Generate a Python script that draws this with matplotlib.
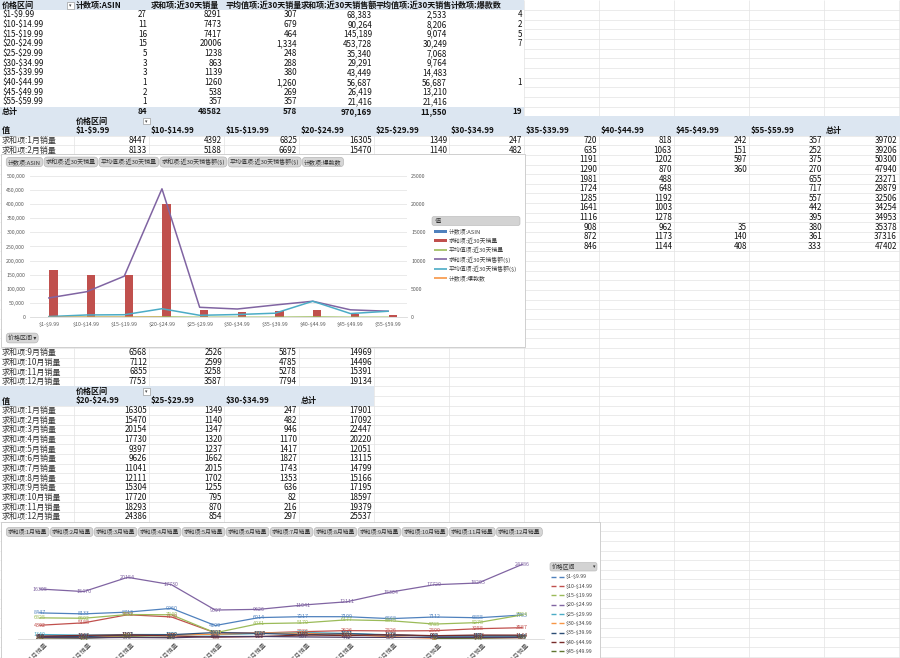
import matplotlib
matplotlib.use('Agg')
import matplotlib.pyplot as plt
import matplotlib.patches as patches
import matplotlib.transforms as mtransforms
import numpy as np

plt.rcParams['font.family'] = ['Noto Sans CJK SC', 'DejaVu Sans']

# ---------------- data ----------------
price_ranges = ['$1-$9.99', '$10-$14.99', '$15-$19.99', '$20-$24.99', '$25-$29.99',
                '$30-$34.99', '$35-$39.99', '$40-$44.99', '$45-$49.99', '$55-$59.99']
t1_headers = ['价格区间', '计数项:ASIN', '求和项:近30天销量', '平均值项:近30天销量',
              '求和项:近30天销售额', '平均值项:近30天销售', '计数项:爆款数']
asin_count = [27, 11, 16, 15, 5, 3, 3, 1, 2, 1]
sales_30d = [8291, 7473, 7417, 20006, 1238, 863, 1139, 1260, 538, 357]
avg_sales_30d = [307, 679, 464, 1334, 248, 288, 380, 1260, 269, 357]
revenue_30d = [68383, 90264, 145189, 453728, 35340, 29291, 43449, 56687, 26419, 21416]
avg_revenue_30d = [2533, 8206, 9074, 30249, 7068, 9764, 14483, 56687, 13210, 21416]
hot_count = [4, 2, 5, 7, None, None, None, 1, None, None]
t1_totals = ['84', '48582', '578', '970,169', '11,550', '19']

months = ['1月', '2月', '3月', '4月', '5月', '6月', '7月', '8月', '9月', '10月', '11月', '12月']
m_1_9 = [8447, 8133, 8713, 9960, 4299, 6914, 7217, 7199, 6568, 7112, 6855, 7753]
m_10_14 = [4392, 5188, 7852, 7130, 1897, 1830, 2286, 2626, 2526, 2599, 3258, 3587]
m_15_19 = [6825, 6692, 7923, 7840, 1900, 4931, 5170, 6177, 5875, 4785, 5278, 7794]
m_20_24 = [16305, 15470, 20154, 17730, 9397, 9626, 11041, 12111, 15304, 17720, 18293, 24386]
m_25_29 = [1349, 1140, 1347, 1320, 1237, 1662, 2015, 1702, 1255, 795, 870, 854]
m_30_34 = [247, 482, 946, 1170, 1417, 1827, 1743, 1353, 636, 82, 216, 297]
m_35_39 = [720, 635, 1191, 1290, 1981, 1724, 1285, 1641, 1116, 908, 872, 846]
m_40_44 = [818, 1063, 1202, 870, 488, 648, 1192, 1003, 1278, 962, 1173, 1144]
m_45_49 = [242, 151, 597, 360, None, None, None, None, None, 35, 140, 408]
m_55_59 = [357, 252, 375, 270, 655, 717, 557, 442, 395, 380, 361, 333]
month_total = [39702, 39206, 50300, 47940, 23271, 29879, 32506, 34254, 34953, 35378, 37316, 47402]
t3_total = [14969, 14496, 15391, 19134]          # 9月-12月, $1/$10/$15 table
t4_total = [17901, 17092, 22447, 20220, 12051, 13115, 14799, 15166, 17195, 18597, 19379, 25537]

monthly = [m_1_9, m_10_14, m_15_19, m_20_24, m_25_29, m_30_34, m_35_39, m_40_44, m_45_49, m_55_59]
range_colors = ['#4F81BD', '#C0504D', '#9BBB59', '#8064A2', '#4BACC6',
                '#F79646', '#2C4D75', '#772C2A', '#5F7530', '#4D3B62']


def esc(s):
    # keep "$" literal (no mathtext)
    return str(s).replace('$', r'\$')


# ---------------- sheet ----------------
W, H = 900, 658
fig = plt.figure(figsize=(W / 100, H / 100), dpi=100)
bg = fig.add_axes([0, 0, 1, 1])
bg.set_xlim(0, W)
bg.set_ylim(H, 0)
bg.axis('off')

ROW0, ROWH = 5.3, 9.65
FS = 5.8
GRID = '#E3E3E3'
HEAD = '#DCE6F1'


def row_y(k):
    return ROW0 + ROWH * k


def col_right(j):
    return 74 + 75 * j


def col_left(j):
    return 0 if j == 0 else col_right(j - 1)


def px_axes(x0, y0, x1, y1):
    return fig.add_axes([x0 / W, 1 - y1 / H, (x1 - x0) / W, (y1 - y0) / H])


def fill_row(k, x0, x1, color=HEAD, n=1):
    bg.add_patch(patches.Rectangle((x0, row_y(k) - ROWH / 2), x1 - x0, ROWH * n,
                                   fc=color, ec='none', zorder=2))


def cell(k, j, s, bold=False, left=False, color='#111111'):
    if s is None:
        return
    if left:
        x, ha = col_left(j) + 2, 'left'
    else:
        x, ha = col_right(j) - 2, 'right'
    bg.text(x, row_y(k), esc(s), ha=ha, va='center', fontsize=FS,
            fontweight='bold' if bold else 'normal', color=color, zorder=3)


def filter_icon(x, y):
    bg.add_patch(patches.Rectangle((x, y - 3.2), 6.5, 6.5, fc='white', ec='#8A8A8A', lw=0.4, zorder=3))
    bg.text(x + 3.25, y, '▾', ha='center', va='center', fontsize=3.5, color='#444444', zorder=4)


def fmt(v):
    return None if v is None else '{:,}'.format(v)


# gridlines
bg.hlines([row_y(k) + ROWH / 2 for k in range(70)], 0, W, color=GRID, lw=0.5, zorder=1)
bg.vlines([col_right(j) for j in range(12)], 0, H, color=GRID, lw=0.5, zorder=1)

# table 1
fill_row(0, 0, 524)
fill_row(1, 0, 524, color='white', n=10)
fill_row(11, 0, 524)
for j, h in enumerate(t1_headers):
    cell(0, j, h, bold=True, left=True)
filter_icon(67, row_y(0))
for i, pr in enumerate(price_ranges):
    k = i + 1
    cell(k, 0, pr, left=True)
    cell(k, 1, asin_count[i])
    cell(k, 2, sales_30d[i])
    cell(k, 3, fmt(avg_sales_30d[i]))
    cell(k, 4, fmt(revenue_30d[i]))
    cell(k, 5, fmt(avg_revenue_30d[i]))
    cell(k, 6, hot_count[i])
cell(11, 0, '总计', bold=True, left=True)
for j, v in enumerate(t1_totals):
    cell(11, j + 1, v, bold=True)

# table 2
fill_row(12, 0, W)
fill_row(13, 0, W)
cell(12, 1, '价格区间', bold=True, left=True)
filter_icon(143, row_y(12))
cell(13, 0, '值', bold=True, left=True)
for j, h in enumerate(price_ranges + ['总计']):
    cell(13, j + 1, h, bold=True, left=True)
for m in range(12):
    k = 14 + m
    row = [s[m] for s in monthly] + [month_total[m]]
    if m < 2:
        cell(k, 0, '求和项:' + months[m] + '销量', left=True, color='#333333')
        cols = range(11)
    else:
        cols = range(6, 11)
    for c in cols:
        cell(k, c + 1, row[c])

# table 3 (only last rows visible)
for i in range(4):
    k = 36 + i
    m = 8 + i
    cell(k, 0, '求和项:' + months[m] + '销量', left=True, color='#333333')
    cell(k, 1, m_1_9[m])
    cell(k, 2, m_10_14[m])
    cell(k, 3, m_15_19[m])
    cell(k, 4, t3_total[i])

# table 4
fill_row(40, 0, 374)
fill_row(41, 0, 374)
cell(40, 1, '价格区间', bold=True, left=True)
filter_icon(143, row_y(40))
for j, h in enumerate(['值', '$20-$24.99', '$25-$29.99', '$30-$34.99', '总计']):
    cell(41, j, h, bold=True, left=True)
for m in range(12):
    k = 42 + m
    cell(k, 0, '求和项:' + months[m] + '销量', left=True, color='#333333')
    cell(k, 1, m_20_24[m])
    cell(k, 2, m_25_29[m])
    cell(k, 3, m_30_34[m])
    cell(k, 4, t4_total[m])

# chart boxes
bg.add_patch(patches.Rectangle((1, 153.5), 524, 193.5, fc='white', ec='#C8C8C8', lw=0.6, zorder=5))
bg.add_patch(patches.Rectangle((1, 522), 599, 140, fc='white', ec='#C8C8C8', lw=0.6, zorder=5))

renderer = fig.canvas.get_renderer()


def button_row(labels, x, y, fs=4.3):
    for lab in labels:
        t = bg.text(x, y, esc(lab), fontsize=fs, color='#333333', ha='left', va='center', zorder=7,
                    bbox=dict(boxstyle='round,pad=0.3,rounding_size=0.6',
                              fc='#D6D6D6', ec='#ADADAD', lw=0.4))
        w = t.get_window_extent(renderer=renderer).width
        x += w + 2 * 0.3 * fs * 100 / 72 + 1.2


c1_labels = ['计数项:ASIN', '求和项:近30天销量', '平均值项:近30天销量',
             '求和项:近30天销售额($)', '平均值项:近30天销售额($)', '计数项:爆款数']
button_row(c1_labels, 8, 162)
button_row(['价格区间 ▾'], 8, 338)
button_row(['求和项:' + m + '销量' for m in months], 8, 532, fs=4.15)

# ---------------- chart 1 ----------------
x = np.arange(len(price_ranges))
ax1 = px_axes(30, 175.7, 407, 317.3)
ax2 = ax1.twinx()
ax1.set_zorder(ax2.get_zorder() + 1)
ax1.patch.set_visible(False)
ax2.patch.set_visible(False)

ax2.set_ylim(0, 25000)
ax2.set_yticks(np.arange(0, 25001, 5000))
ax2.set_yticks(np.arange(0, 25001, 2500), minor=True)
ax2.yaxis.grid(True, which='both', color='#E6E6E6', lw=0.6)
ax2.set_axisbelow(True)
ax2.tick_params(axis='y', which='both', length=0, pad=3, labelsize=3.8, labelcolor='#595959')
ax2.bar(x - 0.12, asin_count, width=0.22, color='#4F81BD')
ax2.bar(x + 0.12, sales_30d, width=0.22, color='#C0504D')

ax1.set_xlim(-0.5, 9.5)
ax1.set_ylim(0, 500000)
ax1.set_yticks(np.arange(0, 500001, 50000))
ax1.set_yticklabels(['{:,}'.format(v) for v in range(0, 500001, 50000)])
ax1.plot(x, avg_sales_30d, color='#9BBB59', lw=1.0)
ax1.plot(x, revenue_30d, color='#8064A2', lw=1.1)
ax1.plot(x, avg_revenue_30d, color='#4BACC6', lw=1.1)
ax1.plot(x, np.array(hot_count, dtype=float), color='#F79646', lw=0.9)
ax1.set_xticks(x)
ax1.set_xticklabels([esc(p) for p in price_ranges])
ax1.tick_params(length=0, labelsize=3.8, labelcolor='#595959')
ax1.tick_params(axis='y', pad=3.5)
ax1.tick_params(axis='x', pad=3.5)
for a in (ax1, ax2):
    for s in a.spines.values():
        s.set_visible(False)
ax1.spines['bottom'].set_visible(True)
ax1.spines['bottom'].set_color('#D9D9D9')
ax1.spines['bottom'].set_linewidth(0.6)

# chart 1 legend
bg.add_patch(patches.FancyBboxPatch((432, 216.5), 88, 9, boxstyle='round,pad=0,rounding_size=2',
                                    fc='#D3D3D3', ec='#B5B5B5', lw=0.4, zorder=6))
bg.text(435, 221, '值', fontsize=4.5, color='#333333', va='center', zorder=7)
c1_colors = ['#4F81BD', '#C0504D', '#9BBB59', '#8064A2', '#4BACC6', '#F79646']
c1_kind = ['bar', 'bar', 'line', 'line', 'line', 'line']
for i, (lab, col, kind) in enumerate(zip(c1_labels, c1_colors, c1_kind)):
    y = 231.3 + 9.35 * i
    if kind == 'bar':
        bg.add_patch(patches.Rectangle((434, y - 1.8), 13, 3.6, fc=col, ec='none', zorder=7))
    else:
        bg.hlines(y, 434, 447, color=col, lw=1.2, zorder=7)
    bg.text(449, y, esc(lab), fontsize=4.2, color='#404040', va='center', zorder=7)

# ---------------- chart 2 ----------------
xm = np.arange(12)
ax3 = px_axes(18, 547.4, 544, 638.6)
ax3.set_xlim(-0.5, 11.5)
ax3.set_ylim(0, 30000)
ax3.patch.set_visible(False)
for s in ax3.spines.values():
    s.set_visible(False)
ax3.spines['bottom'].set_visible(True)
ax3.spines['bottom'].set_color('#D9D9D9')
ax3.spines['bottom'].set_linewidth(0.6)
ax3.set_yticks([])
for s, col in zip(monthly, range_colors):
    ax3.plot(xm, np.array(s, dtype=float), color=col, lw=0.9)
for s, col in zip(monthly, range_colors):
    for i, v in enumerate(s):
        if v is not None:
            ax3.text(i, v, str(v), fontsize=3.9, color=col, ha='center', va='center')
ax3.set_xticks(xm)
ax3.set_xticklabels(['求和项:' + m + '销量' for m in months], rotation=45,
                    ha='right', va='top', rotation_mode='anchor')
ax3.tick_params(length=0, labelsize=4.5, labelcolor='#595959', pad=2)
shift = mtransforms.ScaledTranslation(4 / 100, 0, fig.dpi_scale_trans)
for lbl in ax3.get_xticklabels():
    lbl.set_transform(lbl.get_transform() + shift)

# chart 2 legend
bg.add_patch(patches.FancyBboxPatch((550, 562.5), 47, 8.5, boxstyle='round,pad=0,rounding_size=2',
                                    fc='#D3D3D3', ec='#B5B5B5', lw=0.4, zorder=6))
bg.text(552, 566.8, '价格区间', fontsize=4.2, color='#333333', va='center', zorder=7)
bg.text(593, 566.8, '▾', fontsize=3.5, color='#333333', va='center', zorder=7)
for i, (pr, col) in enumerate(zip(price_ranges, range_colors)):
    y = 576.7 + 9.33 * i
    bg.hlines(y, 551, 556, color=col, lw=1.0, zorder=7)
    bg.hlines(y, 559, 564, color=col, lw=1.0, zorder=7)
    bg.text(566, y, esc(pr), fontsize=3.8, color='#404040', va='center', zorder=7)

fig.savefig('out.png', dpi=100)
